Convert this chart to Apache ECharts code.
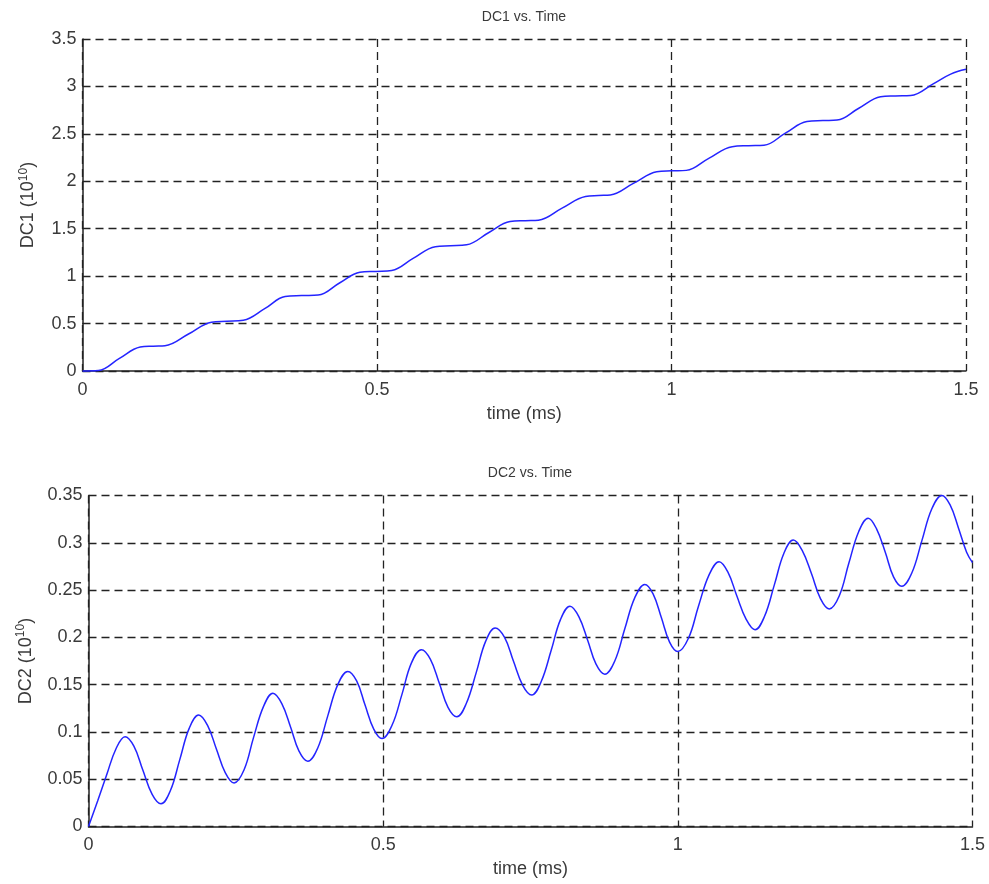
<!DOCTYPE html>
<html>
<head>
<meta charset="utf-8">
<title>DC1 / DC2 vs. Time</title>
<script src="https://cdn.jsdelivr.net/npm/echarts@6/dist/echarts.min.js"></script>
<style>
  html, body { margin: 0; padding: 0; background: #fff; }
  #chart { width: 989px; height: 884px; }
</style>
</head>
<body>
<div id="chart"></div>
<script>
// (time in ms, values in 10^10)
const dc1Time = [0, 0.027, 0.062, 0.098, 0.12, 0.14, 0.18, 0.219, 0.245, 0.273, 0.31, 0.344, 0.372, 0.40, 0.437, 0.471, 0.498, 0.525, 0.562, 0.599, 0.625, 0.652, 0.69, 0.726, 0.752, 0.774, 0.815, 0.854, 0.876, 0.896, 0.936, 0.975, 1.0, 1.025, 1.064, 1.103, 1.131, 1.157, 1.194, 1.23, 1.257, 1.281, 1.318, 1.355, 1.38, 1.406, 1.445, 1.474, 1.5]
const dc1Values = [0, 0.005, 0.13, 0.252, 0.262, 0.266, 0.39, 0.515, 0.525, 0.535, 0.66, 0.785, 0.795, 0.80, 0.93, 1.04, 1.05, 1.06, 1.19, 1.31, 1.32, 1.33, 1.46, 1.575, 1.585, 1.59, 1.72, 1.84, 1.85, 1.855, 1.98, 2.10, 2.11, 2.115, 2.245, 2.365, 2.375, 2.38, 2.51, 2.63, 2.64, 2.645, 2.77, 2.89, 2.90, 2.905, 3.03, 3.13, 3.18]

const dc2Time = [
  0, 0.0155, 0.031, 0.0465, 0.062,
  0.077, 0.092, 0.108, 0.123,
  0.139, 0.155, 0.171, 0.187,
  0.202, 0.217, 0.232, 0.247,
  0.264, 0.280, 0.297, 0.313,
  0.328, 0.343, 0.357, 0.372,
  0.389, 0.406, 0.423, 0.44,
  0.455, 0.469, 0.484, 0.498,
  0.515, 0.532, 0.548, 0.565,
  0.58, 0.595, 0.61, 0.625,
  0.641, 0.658, 0.674, 0.69,
  0.706, 0.721, 0.737, 0.752,
  0.768, 0.785, 0.801, 0.817,
  0.832, 0.847, 0.861, 0.876,
  0.893, 0.91, 0.927, 0.944,
  0.958, 0.972, 0.986, 1.0,
  1.018, 1.035, 1.053, 1.07,
  1.085, 1.10, 1.116, 1.131,
  1.147, 1.164, 1.18, 1.196,
  1.211, 1.227, 1.242, 1.257,
  1.274, 1.29, 1.307, 1.323,
  1.337, 1.352, 1.366, 1.38,
  1.397, 1.414, 1.431, 1.448,
  1.462, 1.476, 1.49, 1.5
]
const dc2Values = [
  0, 0.027, 0.055, 0.082, 0.095,
  0.085, 0.060, 0.034, 0.024,
  0.038, 0.071, 0.104, 0.118,
  0.107, 0.082, 0.057, 0.046,
  0.060, 0.094, 0.127, 0.141,
  0.130, 0.105, 0.080, 0.069,
  0.083, 0.117, 0.150, 0.164,
  0.154, 0.129, 0.103, 0.093,
  0.107, 0.140, 0.173, 0.187,
  0.177, 0.152, 0.126, 0.116,
  0.130, 0.163, 0.196, 0.210,
  0.200, 0.175, 0.149, 0.139,
  0.153, 0.186, 0.219, 0.233,
  0.222, 0.197, 0.172, 0.161,
  0.175, 0.209, 0.242, 0.256,
  0.246, 0.221, 0.195, 0.185,
  0.199, 0.233, 0.266, 0.280,
  0.269, 0.244, 0.219, 0.208,
  0.222, 0.256, 0.289, 0.303,
  0.292, 0.267, 0.241, 0.230,
  0.244, 0.278, 0.312, 0.326,
  0.315, 0.290, 0.264, 0.254,
  0.268, 0.302, 0.336, 0.350,
  0.340, 0.316, 0.290, 0.279
]

const titles = ['DC1 vs. Time', 'DC2 vs. Time']
const yNames = ['DC1 (10{sup|10})', 'DC2 (10{sup|10})']
const xName = 'time (ms)'
const xMax = 1.5
const xStep = 0.5
const yMax = [3.5, 0.35]
const yStep = [0.5, 0.05]

const FONT = '"Liberation Sans", Arial, sans-serif'
const TXT = '#3a3a3a'
const gridLine = { show: true, lineStyle: { color: '#222', width: 1.3, type: [8, 5] } }

function pairs(xs, ys) {
  return xs.map((x, i) => [x, ys[i]])
}

function xAxisFor(i) {
  return {
    type: 'value',
    gridIndex: i,
    min: 0,
    max: xMax,
    interval: xStep,
    name: xName,
    nameLocation: 'middle',
    nameGap: 34,
    nameTextStyle: { color: TXT, fontSize: 18, fontFamily: FONT },
    axisLine: { show: true, onZero: false, lineStyle: { color: '#222', width: 1.5 } },
    axisTick: { show: true, inside: true, length: 4, lineStyle: { color: '#222' } },
    axisLabel: {
      color: TXT, fontSize: 18, fontFamily: FONT, margin: 10,
      formatter: v => String(+v.toFixed(2))
    },
    splitLine: gridLine
  }
}

function yAxisFor(i) {
  return {
    type: 'value',
    gridIndex: i,
    min: 0,
    max: yMax[i],
    interval: yStep[i],
    name: yNames[i],
    nameLocation: 'middle',
    nameRotate: 90,
    nameGap: i === 0 ? 43 : 51,
    nameTextStyle: {
      color: TXT, fontSize: 18, fontFamily: FONT, lineHeight: 22,
      rich: {
        sup: { fontSize: 12, fontFamily: FONT, color: TXT, verticalAlign: 'top', lineHeight: 22 }
      }
    },
    axisLine: { show: true, lineStyle: { color: '#222', width: 1.5 } },
    axisTick: { show: true, inside: true, length: 4, lineStyle: { color: '#222' } },
    axisLabel: {
      color: TXT, fontSize: 18, fontFamily: FONT, margin: 6,
      formatter: v => String(+v.toFixed(3))
    },
    splitLine: gridLine
  }
}

function seriesFor(i, data) {
  return {
    type: 'line',
    xAxisIndex: i,
    yAxisIndex: i,
    data: data,
    smooth: 0.4,
    showSymbol: false,
    lineStyle: { color: '#2424ff', width: 1.5 },
    clip: false
  }
}

const chart = echarts.init(document.getElementById('chart'))
chart.setOption({
  animation: false,
  backgroundColor: '#fff',
  title: [
    { text: titles[0], left: 519, top: 5, textAlign: 'center',
      textStyle: { fontSize: 14, fontWeight: 'normal', color: TXT, fontFamily: FONT } },
    { text: titles[1], left: 525, top: 461, textAlign: 'center',
      textStyle: { fontSize: 14, fontWeight: 'normal', color: TXT, fontFamily: FONT } }
  ],
  grid: [
    { left: 82.5, top: 39, width: 883.5, height: 332 },
    { left: 88.5, top: 495.5, width: 884, height: 331 }
  ],
  xAxis: [xAxisFor(0), xAxisFor(1)],
  yAxis: [yAxisFor(0), yAxisFor(1)],
  series: [
    seriesFor(0, pairs(dc1Time, dc1Values)),
    seriesFor(1, pairs(dc2Time, dc2Values))
  ]
})
</script>
</body>
</html>
